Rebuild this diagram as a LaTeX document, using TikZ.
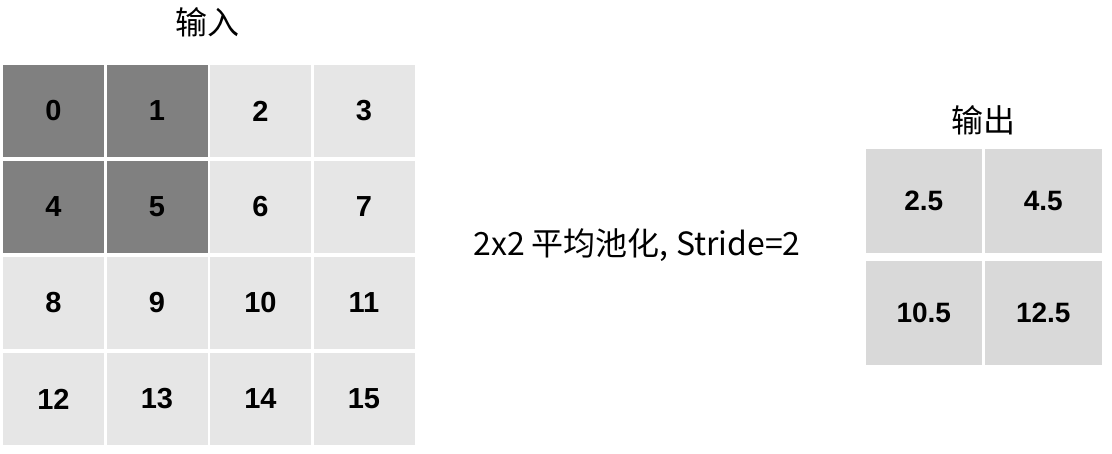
\documentclass[tikz,border=0pt]{standalone}
\usepackage{fontspec}
\setmainfont{Liberation Sans}
\newfontfamily\cjkfont{Noto Sans CJK SC}
\usepackage{xcolor}
\usepackage{tikz}
\usetikzlibrary{positioning}
\definecolor{cellgray}{RGB}{230,230,230}
\definecolor{celldark}{RGB}{128,128,128}
\definecolor{cellout}{RGB}{217,217,217}

\begin{document}
\begin{tikzpicture}[
    x=1pt, y=-1pt,
    node distance=4pt and 2.5pt,
    cell/.style={rectangle, fill=cellgray, minimum width=101pt, minimum height=92pt,
                inner sep=0pt, outer sep=0pt, font=\fontsize{29}{29}\selectfont\bfseries},
    hot/.style={cell, fill=celldark},
    outcell/.style={cell, fill=cellout, minimum width=116.5pt, minimum height=104pt,
                font=\fontsize{28}{28}\selectfont\bfseries},
    title/.style={font=\cjkfont\fontsize{32}{32}\selectfont},
]
    \useasboundingbox (0,0) rectangle (1112,453);

    % input grid
    \node[hot, anchor=north west] (c0) at (3,65) {0};
    \node[hot, right=of c0] (c1) {1};
    \node[cell, right=of c1] (c2) {2};
    \node[cell, right=of c2] (c3) {3};
    \node[hot, below=of c0] (c4) {4};
    \node[hot, right=of c4] (c5) {5};
    \node[cell, right=of c5] (c6) {6};
    \node[cell, right=of c6] (c7) {7};
    \node[cell, below=of c4] (c8) {8};
    \node[cell, right=of c8] (c9) {9};
    \node[cell, right=of c9] (c10) {10};
    \node[cell, right=of c10] (c11) {11};
    \node[cell, below=of c8] (c12) {12};
    \node[cell, right=of c12] (c13) {13};
    \node[cell, right=of c13] (c14) {14};
    \node[cell, right=of c14] (c15) {15};

    % output grid
    \node[outcell, anchor=north west] (o0) at (865.5,149) {2.5};
    \node[outcell, right=3pt of o0] (o1) {4.5};
    \node[outcell, below=8pt of o0] (o2) {10.5};
    \node[outcell, right=3pt of o2] (o3) {12.5};

    \node[title] (inlabel) at (207,22) {输入};
    \node[title] (outlabel) at (983,120) {输出};
    \node[title] (op) at (637,245) {2x2 平均池化, Stride=2};
\end{tikzpicture}
\end{document}
